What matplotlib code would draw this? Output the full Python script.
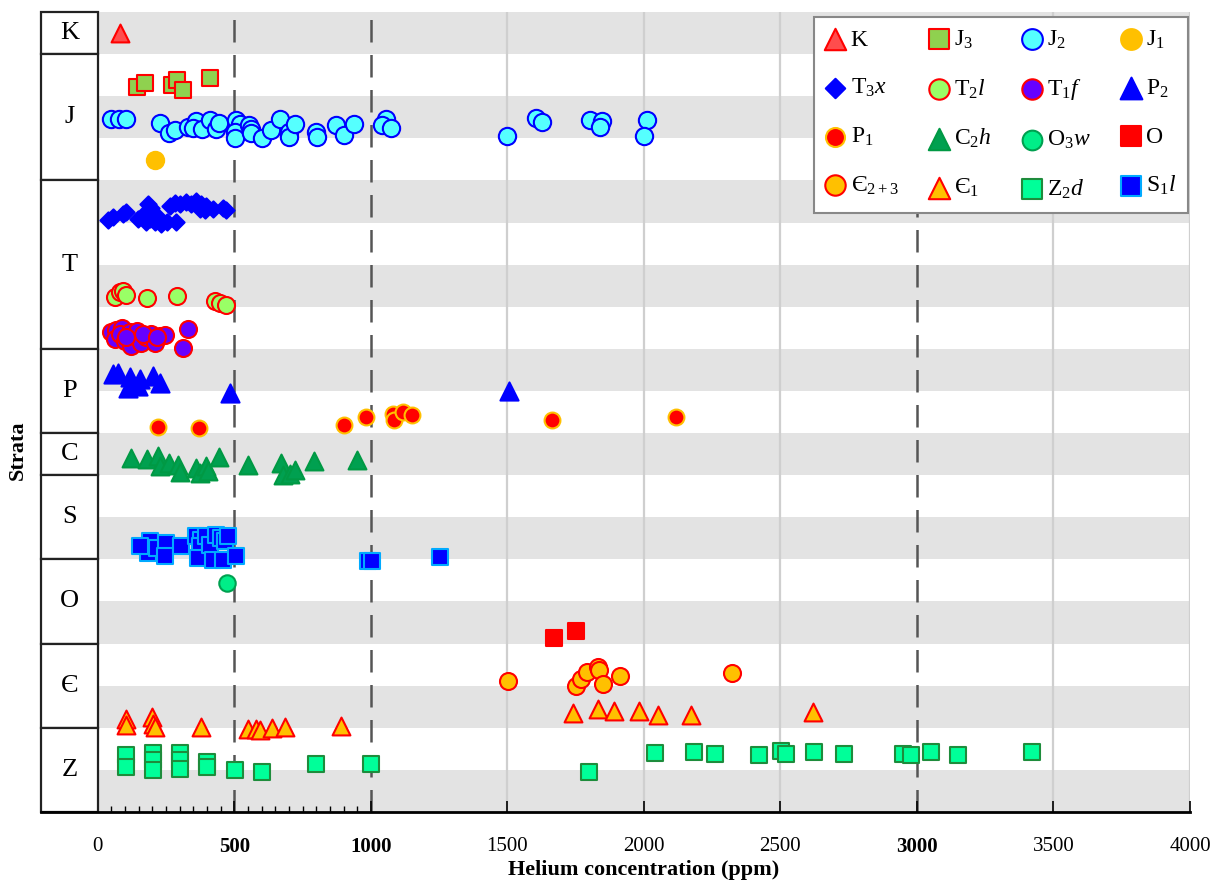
import numpy as np
import matplotlib
matplotlib.use('Agg')
import matplotlib.pyplot as plt
from matplotlib.patches import Rectangle
from matplotlib.ticker import FixedLocator

plt.rcParams['font.family'] = ['Liberation Serif', 'DejaVu Serif']
plt.rcParams['mathtext.fontset'] = 'custom'
plt.rcParams['mathtext.rm'] = 'Liberation Serif'
plt.rcParams['mathtext.it'] = 'Liberation Serif:italic'

# strata column: name, bottom, top (one unit = one shaded band)
strata_names = ['K', 'J', 'T', 'P', 'C', 'S', 'O', 'Є', 'Z']
strata_bottom = [18, 15, 11, 9, 8, 6, 4, 2, 0]
strata_top = [19, 18, 15, 11, 9, 8, 6, 4, 2]

# helium values (ppm) and vertical positions (band units)
K_x = [80]
K_y = [18.5]
J3_x = [142, 172, 270, 290, 312, 412]
J3_y = [17.21, 17.32, 17.26, 17.38, 17.14, 17.43]
J2_x = [50, 78, 102, 229, 261, 283, 330, 361, 349, 383, 410, 432, 444, 507, 520,
        501, 501, 554, 562, 562, 601, 635, 666, 699, 700, 723, 800, 802, 873, 900,
        940, 1054, 1042, 1072, 1500, 1606, 1628, 1804, 1848, 1840, 2012, 2001]
J2_y = [16.46, 16.46, 16.46, 16.36, 16.13, 16.19, 16.27, 16.41, 16.25, 16.21, 16.43,
        16.21, 16.36, 16.44, 16.35, 16.15, 16.0, 16.31, 16.23, 16.13, 16.0, 16.19,
        16.46, 16.15, 16.03, 16.33, 16.15, 16.03, 16.31, 16.07, 16.33, 16.46, 16.31,
        16.24, 16.05, 16.48, 16.38, 16.43, 16.40, 16.26, 16.43, 16.05]
J1_x = [211]
J1_y = [15.48]
T3x_x = [38, 56, 93, 105, 148, 166, 184, 196, 178, 209, 233, 254, 285, 263, 282,
         302, 324, 343, 361, 379, 398, 391, 373, 422, 458, 471, 190, 221]
T3x_y = [14.06, 14.13, 14.2, 14.25, 14.09, 14.17, 14.44, 14.35, 14.01, 14.01, 13.97,
         14.01, 14.01, 14.4, 14.46, 14.44, 14.48, 14.44, 14.51, 14.44, 14.4, 14.29,
         14.33, 14.33, 14.35, 14.29, 14.09, 14.13]
T2l_x = [62, 80, 93, 102, 180, 290, 428, 446, 471]
T2l_y = [12.24, 12.34, 12.38, 12.29, 12.2, 12.26, 12.14, 12.09, 12.05]
T1f_x = [50, 68, 87, 62, 80, 99, 117, 123, 135, 142, 160, 178, 196, 209, 227, 245,
         330, 312, 105, 166, 215]
T1f_y = [11.39, 11.44, 11.49, 11.23, 11.35, 11.19, 11.39, 11.07, 11.31, 11.43, 11.15,
         11.27, 11.35, 11.15, 11.31, 11.33, 11.47, 11.03, 11.27, 11.35, 11.27]
P2_x = [56, 74, 117, 111, 129, 154, 147, 202, 229, 483, 1505]
P2_y = [10.4, 10.43, 10.32, 10.08, 10.16, 10.28, 10.12, 10.36, 10.2, 9.96, 10.0]
P1_x = [221, 371, 900, 981, 1081, 1083, 1117, 1151, 1662, 2118]
P1_y = [9.14, 9.13, 9.19, 9.38, 9.46, 9.32, 9.51, 9.42, 9.31, 9.38]
C2h_x = [123, 180, 221, 227, 261, 294, 300, 361, 373, 395, 404, 444, 550, 672, 678,
         703, 723, 790, 949]
C2h_y = [8.41, 8.39, 8.45, 8.21, 8.29, 8.25, 8.07, 8.17, 8.05, 8.21, 8.11, 8.43, 8.25,
         8.29, 8.0, 8.02, 8.13, 8.33, 8.37]
O3w_x = [474]
O3w_y = [5.45]
O_x = [1672, 1752]
O_y = [4.14, 4.3]
E23_x = [1501, 1752, 1770, 1790, 1831, 1834, 1851, 1913, 2322]
E23_y = [3.12, 3.0, 3.17, 3.33, 3.45, 3.37, 3.05, 3.23, 3.29]
E1_x = [102, 102, 200, 202, 209, 379, 550, 580, 595, 639, 684, 892, 1742, 1833, 1892,
        1983, 2053, 2172, 2621]
E1_y = [2.22, 2.06, 2.26, 2.1, 2.02, 2.02, 1.97, 1.98, 1.94, 2.0, 2.02, 2.05, 2.34,
        2.44, 2.39, 2.41, 2.31, 2.31, 2.38]
Z2d_x = [102, 102, 202, 202, 202, 300, 300, 300, 401, 401, 501, 601, 800, 1001, 1800,
         2042, 2182, 2261, 2422, 2501, 2522, 2623, 2733, 2949, 2978, 3051, 3150, 3421]
Z2d_y = [1.35, 1.07, 1.39, 1.23, 0.99, 1.39, 1.23, 1.03, 1.19, 1.07, 0.99, 0.96, 1.15,
         1.13, 0.95, 1.39, 1.43, 1.37, 1.35, 1.44, 1.37, 1.43, 1.38, 1.38, 1.36, 1.43,
         1.36, 1.43]
S1l_x = [190, 184, 154, 215, 251, 245, 306, 361, 379, 373, 367, 398, 410, 422, 434,
         452, 465, 458, 477, 507, 990, 1005, 1254]
S1l_y = [6.43, 6.15, 6.31, 6.27, 6.39, 6.07, 6.31, 6.55, 6.47, 6.31, 6.03, 6.55, 6.35,
         5.99, 6.58, 6.51, 6.43, 5.99, 6.55, 6.07, 5.96, 5.96, 6.05]

# label, x, y, marker, size, face, edge
series = [
    ('K', K_x, K_y, '^', 165, '#ff4d4d', '#ff0000'),
    (r'J$_3$', J3_x, J3_y, 's', 140, '#8fd14f', '#ff0000'),
    (r'J$_2$', J2_x, J2_y, 'o', 155, '#55ffff', '#0000ff'),
    (r'J$_1$', J1_x, J1_y, 'o', 155, '#ffc000', '#ffc000'),
    (r'T$_3$$x$', T3x_x, T3x_y, 'D', 68, '#0000ff', '#0000ff'),
    (r'T$_2$$l$', T2l_x, T2l_y, 'o', 150, '#99ff66', '#ff0000'),
    (r'T$_1$$f$', T1f_x, T1f_y, 'o', 150, '#6600ff', '#ff0000'),
    (r'P$_2$', P2_x, P2_y, '^', 170, '#0000ff', '#0000ff'),
    (r'P$_1$', P1_x, P1_y, 'o', 130, '#ff0000', '#ffc000'),
    (r'C$_2$$h$', C2h_x, C2h_y, '^', 165, '#00a050', '#009944'),
    (r'O$_3$$w$', O3w_x, O3w_y, 'o', 140, '#00ee88', '#00a050'),
    ('O', O_x, O_y, 's', 130, '#ff0000', '#ff0000'),
    (r'Є$_{2+3}$', E23_x, E23_y, 'o', 150, '#ffc000', '#ff0000'),
    (r'Є$_1$', E1_x, E1_y, '^', 165, '#ffc000', '#ff0000'),
    (r'Z$_2$$d$', Z2d_x, Z2d_y, 's', 130, '#00ff99', '#1e8c3c'),
    (r'S$_1$$l$', S1l_x, S1l_y, 's', 130, '#0000ff', '#00aaff'),
]

fig = plt.figure(figsize=(12.28, 8.91), dpi=100)
ax = fig.add_axes([41 / 1228, 1 - 812 / 891, 1149 / 1228, 800 / 891])
xmin = -208
ax.set_xlim(xmin, 4000)
ax.set_ylim(0, 19)

# shaded bands
for i in range(0, 19, 2):
    ax.add_patch(Rectangle((0, i), 4000, 1, facecolor='#e3e3e3', edgecolor='none', zorder=0))

# vertical lines
for v in [1500, 2000, 2500, 3500, 4000]:
    ax.plot([v, v], [0, 19], color='#cfcfcf', lw=1.6, zorder=1)
for v in [500, 1000, 3000]:
    ax.plot([v, v], [0, 19], color='#555555', lw=1.8, dashes=(9, 5), zorder=1)

handles = []
for lab, xs, ys, m, s, fc, ec in series:
    h = ax.scatter(xs, ys, marker=m, s=s, facecolor=fc, edgecolor=ec, linewidths=1.5,
                   zorder=3, label=lab)
    handles.append(h)

# strata column
for name, b, t in zip(strata_names, strata_bottom, strata_top):
    ax.add_patch(Rectangle((xmin, b), -xmin, t - b, facecolor='white', edgecolor='#222222',
                           lw=1.6, zorder=4, clip_on=False))
    ax.text(xmin / 2, (b + t) / 2, name, ha='center', va='center', fontsize=19, zorder=5)

for sp in ['top', 'right', 'left']:
    ax.spines[sp].set_visible(False)
ax.spines['bottom'].set_linewidth(2)
ax.spines['bottom'].set_zorder(6)
ax.set_yticks([])

ticks = np.arange(0, 4001, 500)
ax.set_xticks(ticks)
ax.set_xticklabels([str(t) for t in ticks])
ax.xaxis.set_minor_locator(FixedLocator(np.arange(50, 1000, 50)))
ax.tick_params(axis='x', which='major', direction='in', length=8, width=1.2, pad=18,
               labelsize=15)
ax.tick_params(axis='x', which='minor', direction='in', length=4, width=1)
for lbl in ax.get_xticklabels():
    if lbl.get_text() in ('500', '1000', '3000'):
        lbl.set_fontweight('bold')

fig.text(644 / 1228, 1 - 870 / 891, 'Helium concentration (ppm)', ha='center', va='center',
         fontsize=16, fontweight='bold')
fig.text(18 / 1228, 1 - 450 / 891, 'Strata', ha='center', va='center', rotation=90,
         fontsize=16, fontweight='bold')

# legend filled row by row
order = []
for c in range(4):
    for r in range(4):
        order.append(r * 4 + c)
leg = ax.legend([handles[i] for i in order], [series[i][0] for i in order], ncol=4,
                loc='upper right', bbox_to_anchor=(0.9985, 0.994), fontsize=17,
                frameon=True, fancybox=False, framealpha=1, edgecolor='#888888',
                scatterpoints=1, markerscale=1.2, handlelength=0.8, handletextpad=0.25,
                columnspacing=1.3, labelspacing=1.12, borderpad=0.5, borderaxespad=0)
leg.get_frame().set_linewidth(1.5)
leg.set_zorder(7)

fig.savefig('out.png', dpi=100)
